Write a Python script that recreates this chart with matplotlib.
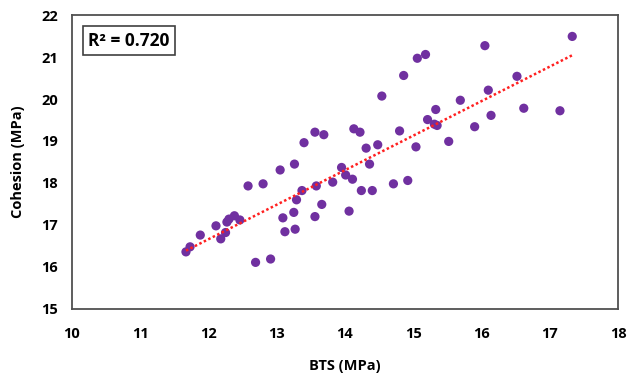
import numpy as np
import matplotlib
matplotlib.use("Agg")
import matplotlib.pyplot as plt

plt.rcParams['font.family'] = ['Open Sans', 'DejaVu Sans']

bts = [17.33, 16.05, 15.06, 15.18, 14.86, 14.54, 16.52, 16.10, 15.69, 15.33,
       16.62, 17.15, 15.21, 15.31, 15.35, 16.14, 15.90, 14.13, 14.22, 14.80,
       14.31, 14.48, 15.04, 15.52, 14.36, 13.95, 14.01, 14.11, 14.24, 14.40,
       14.71, 14.92, 14.06, 13.26, 13.05, 12.58, 12.80, 13.37, 13.58, 13.82,
       13.29, 13.66, 13.09, 13.25, 13.56, 13.12, 13.27, 12.69, 12.91, 11.67,
       11.73, 11.88, 12.11, 12.18, 12.25, 12.27, 12.30, 12.38, 12.46, 13.56,
       13.69, 13.40]
cohesion = [21.49, 21.27, 20.97, 21.06, 20.56, 20.07, 20.54, 20.21, 19.97, 19.75,
            19.78, 19.72, 19.51, 19.40, 19.37, 19.61, 19.34, 19.29, 19.21, 19.24,
            18.83, 18.91, 18.86, 18.99, 18.45, 18.37, 18.19, 18.09, 17.82, 17.82,
            17.98, 18.06, 17.33, 18.45, 18.31, 17.93, 17.98, 17.82, 17.93, 18.02,
            17.60, 17.49, 17.17, 17.30, 17.20, 16.84, 16.90, 16.11, 16.19, 16.36,
            16.48, 16.76, 16.98, 16.67, 16.82, 17.07, 17.14, 17.22, 17.12, 19.21,
            19.15, 18.96]
trend_slope = 0.822
trend_intercept = 6.797
x_ticks = [10, 11, 12, 13, 14, 15, 16, 17, 18]
y_ticks = [15, 16, 17, 18, 19, 20, 21, 22]
r2_label = "R\u00b2 = 0.720"

fig = plt.figure(figsize=(6.27, 3.77), dpi=100)
ax = fig.add_axes([0.1148, 0.1804, 0.8708, 0.7798])

x = np.array(bts)
y = np.array(cohesion)
ax.scatter(x, y, s=44, color='#7030A0', edgecolors='none', zorder=3)

xl = np.array([x.min(), x.max()])
ax.plot(xl, trend_slope * xl + trend_intercept, linestyle=(0, (1, 1)),
        color='#FF2020', linewidth=1.8, zorder=4)

ax.set_xlim(10, 18)
ax.set_ylim(15, 22)
ax.set_xticks(x_ticks)
ax.set_yticks(y_ticks)
ax.tick_params(length=0, labelsize=10.5)
ax.tick_params(axis='x', pad=13)
ax.tick_params(axis='y', pad=10)
for lab in ax.get_xticklabels() + ax.get_yticklabels():
    lab.set_fontweight('bold')

for sp in ax.spines.values():
    sp.set_color('#505050')
    sp.set_linewidth(1.3)

ax.set_xlabel('BTS (MPa)', fontsize=10.5, fontweight='bold', labelpad=13)
ax.set_ylabel('Cohesion (MPa)', fontsize=10.5, fontweight='bold', labelpad=12)

ax.text(0.03, 0.913, r2_label, transform=ax.transAxes, fontsize=12.5,
        fontweight='bold', va='center', ha='left',
        bbox=dict(boxstyle='square,pad=0.3', facecolor='white',
                  edgecolor='#404040', linewidth=1.2))

fig.savefig('out.png', dpi=100)
